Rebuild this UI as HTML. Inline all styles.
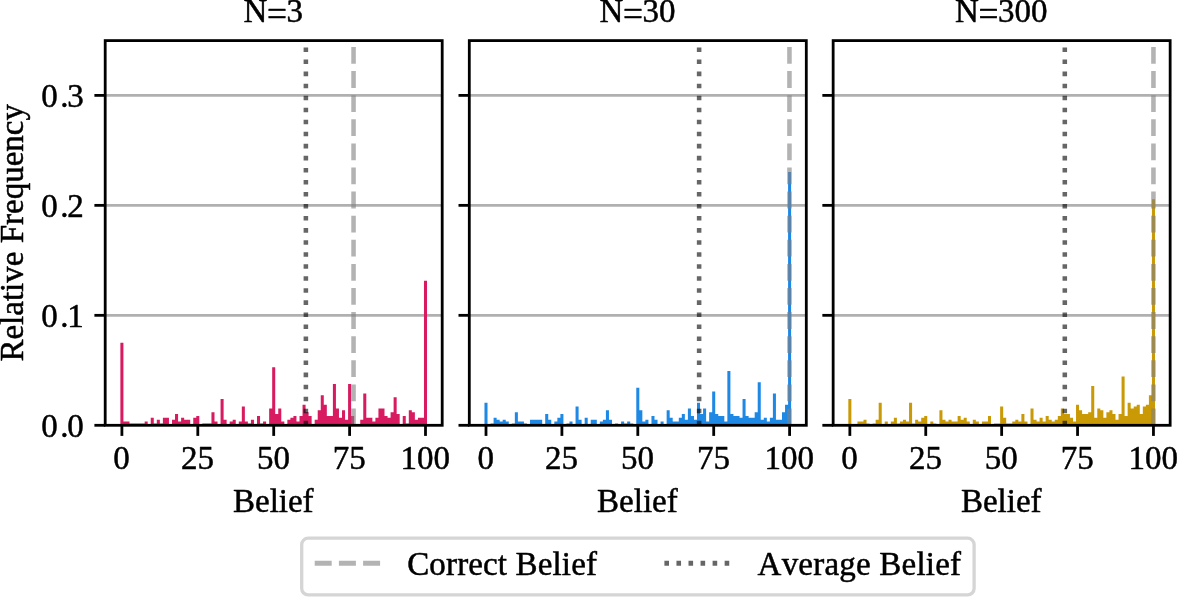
<!DOCTYPE html>
<html lang="en"><head><meta charset="utf-8"><title>Belief histograms</title>
<style>
html,body{margin:0;padding:0;background:#fff;}
body{width:1177px;height:597px;overflow:hidden;}
svg{display:block;}
text{font-family:"Liberation Serif","Times New Roman",Times,serif;font-size:33px;fill:#000;font-kerning:none;stroke:#000;stroke-width:0.5px;stroke-linejoin:round;}
</style></head>
<body>
<svg width="1177" height="597" viewBox="0 0 1177 597">
<rect width="1177" height="597" fill="#fff"/>
<g>
<line x1="105.2" x2="442.2" y1="315.33" y2="315.33" stroke="#b0b0b0" stroke-width="2.8"/>
<line x1="105.2" x2="442.2" y1="205.36" y2="205.36" stroke="#b0b0b0" stroke-width="2.8"/>
<line x1="105.2" x2="442.2" y1="95.39" y2="95.39" stroke="#b0b0b0" stroke-width="2.8"/>
<path d="M120.38 425.3 L120.38 342.76 L123.42 342.76 L123.42 421.55 L126.45 421.55 L126.45 421.55 L129.49 421.55 L129.49 423.42 L132.53 423.42 L132.53 423.42 L135.56 423.42 L135.56 423.42 L138.6 423.42 L138.6 423.42 L141.63 423.42 L141.63 423.42 L144.67 423.42 L144.67 421.55 L147.71 421.55 L147.71 425.3 L150.74 425.3 L150.74 417.8 L153.78 417.8 L153.78 423.42 L156.81 423.42 L156.81 419.67 L159.85 419.67 L159.85 423.42 L162.89 423.42 L162.89 417.8 L165.92 417.8 L165.92 417.8 L168.96 417.8 L168.96 425.3 L171.99 425.3 L171.99 419.67 L175.03 419.67 L175.03 414.04 L178.07 414.04 L178.07 421.55 L181.1 421.55 L181.1 417.8 L184.14 417.8 L184.14 419.67 L187.17 419.67 L187.17 419.67 L190.21 419.67 L190.21 425.3 L193.25 425.3 L193.25 417.8 L196.28 417.8 L196.28 415.92 L199.32 415.92 L199.32 425.3 L202.35 425.3 L202.35 423.42 L205.39 423.42 L205.39 423.42 L208.43 423.42 L208.43 423.42 L211.46 423.42 L211.46 412.17 L214.5 412.17 L214.5 421.55 L217.53 421.55 L217.53 425.3 L220.57 425.3 L220.57 399.04 L223.61 399.04 L223.61 419.67 L226.64 419.67 L226.64 425.3 L229.68 425.3 L229.68 421.55 L232.71 421.55 L232.71 419.67 L235.75 419.67 L235.75 425.3 L238.79 425.3 L238.79 421.55 L241.82 421.55 L241.82 406.54 L244.86 406.54 L244.86 421.55 L247.89 421.55 L247.89 423.42 L250.93 423.42 L250.93 419.67 L253.97 419.67 L253.97 425.3 L257 425.3 L257 415.92 L260.04 415.92 L260.04 423.42 L263.07 423.42 L263.07 421.55 L266.11 421.55 L266.11 425.3 L269.15 425.3 L269.15 408.42 L272.18 408.42 L272.18 367.14 L275.22 367.14 L275.22 414.04 L278.25 414.04 L278.25 408.42 L281.29 408.42 L281.29 421.55 L284.33 421.55 L284.33 425.3 L287.36 425.3 L287.36 419.67 L290.4 419.67 L290.4 417.8 L293.43 417.8 L293.43 415.92 L296.47 415.92 L296.47 421.55 L299.51 421.55 L299.51 415.92 L302.54 415.92 L302.54 404.66 L305.58 404.66 L305.58 412.17 L308.61 412.17 L308.61 415.92 L311.65 415.92 L311.65 425.3 L314.69 425.3 L314.69 419.67 L317.72 419.67 L317.72 410.29 L320.76 410.29 L320.76 395.28 L323.79 395.28 L323.79 404.66 L326.83 404.66 L326.83 415.92 L329.87 415.92 L329.87 415.92 L332.9 415.92 L332.9 384.03 L335.94 384.03 L335.94 408.42 L338.97 408.42 L338.97 417.8 L342.01 417.8 L342.01 410.29 L345.05 410.29 L345.05 419.67 L348.08 419.67 L348.08 384.03 L351.12 384.03 L351.12 415.92 L354.15 415.92 L354.15 425.3 L357.19 425.3 L357.19 425.3 L360.23 425.3 L360.23 419.67 L363.26 419.67 L363.26 393.41 L366.3 393.41 L366.3 417.8 L369.33 417.8 L369.33 417.8 L372.37 417.8 L372.37 421.55 L375.41 421.55 L375.41 417.8 L378.44 417.8 L378.44 408.42 L381.48 408.42 L381.48 408.42 L384.51 408.42 L384.51 415.92 L387.55 415.92 L387.55 417.8 L390.59 417.8 L390.59 412.17 L393.62 412.17 L393.62 397.16 L396.66 397.16 L396.66 414.04 L399.69 414.04 L399.69 425.3 L402.73 425.3 L402.73 415.92 L405.77 415.92 L405.77 423.42 L408.8 423.42 L408.8 410.29 L411.84 410.29 L411.84 412.17 L414.87 412.17 L414.87 419.67 L417.91 419.67 L417.91 417.8 L420.95 417.8 L420.95 417.8 L423.98 417.8 L423.98 280.85 L427.02 280.85 L427.02 425.3 Z" fill="#D81B60"/>
<line x1="353.55" x2="353.55" y1="425.3" y2="40.6" stroke="#808080" stroke-opacity="0.6" stroke-width="4.55" stroke-dasharray="16.8 7.3"/>
<line x1="305.88" x2="305.88" y1="425.3" y2="40.6" stroke="#000" stroke-opacity="0.6" stroke-width="4.55" stroke-dasharray="4.55 7.49"/>
<line x1="121.9" x2="121.9" y1="425.3" y2="435.9" stroke="#000" stroke-width="2.8"/>
<text x="121.6" y="469.2" text-anchor="middle">0</text>
<line x1="197.8" x2="197.8" y1="425.3" y2="435.9" stroke="#000" stroke-width="2.8"/>
<text x="197.5" y="469.2" text-anchor="middle">25</text>
<line x1="273.7" x2="273.7" y1="425.3" y2="435.9" stroke="#000" stroke-width="2.8"/>
<text x="273.4" y="469.2" text-anchor="middle">50</text>
<line x1="349.6" x2="349.6" y1="425.3" y2="435.9" stroke="#000" stroke-width="2.8"/>
<text x="349.3" y="469.2" text-anchor="middle">75</text>
<line x1="425.5" x2="425.5" y1="425.3" y2="435.9" stroke="#000" stroke-width="2.8"/>
<text x="425.2" y="469.2" text-anchor="middle">100</text>
<line x1="94.4" x2="105.2" y1="425.3" y2="425.3" stroke="#000" stroke-width="2.8"/>
<text x="41.25 60.3 67.2" y="436.9">0.0</text>
<line x1="94.4" x2="105.2" y1="315.33" y2="315.33" stroke="#000" stroke-width="2.8"/>
<text x="41.25 60.3 67.2" y="326.93">0.1</text>
<line x1="94.4" x2="105.2" y1="205.36" y2="205.36" stroke="#000" stroke-width="2.8"/>
<text x="41.25 60.3 67.2" y="216.96">0.2</text>
<line x1="94.4" x2="105.2" y1="95.39" y2="95.39" stroke="#000" stroke-width="2.8"/>
<text x="41.25 60.3 67.2" y="106.99">0.3</text>
<rect x="105.2" y="40.6" width="337" height="384.7" fill="none" stroke="#000" stroke-width="2.8"/>
<text y="22.3"><tspan x="243.53">N</tspan><tspan x="267.03" y="26.1" font-size="35.4">=</tspan><tspan x="286.53" y="22.3">3</tspan></text>
<text x="273.3" y="511.6" text-anchor="middle">Belief</text>
</g>
<g>
<line x1="469.3" x2="806.3" y1="315.33" y2="315.33" stroke="#b0b0b0" stroke-width="2.8"/>
<line x1="469.3" x2="806.3" y1="205.36" y2="205.36" stroke="#b0b0b0" stroke-width="2.8"/>
<line x1="469.3" x2="806.3" y1="95.39" y2="95.39" stroke="#b0b0b0" stroke-width="2.8"/>
<path d="M484.48 425.3 L484.48 402.79 L487.52 402.79 L487.52 425.3 L490.55 425.3 L490.55 423.42 L493.59 423.42 L493.59 417.8 L496.63 417.8 L496.63 419.67 L499.66 419.67 L499.66 421.55 L502.7 421.55 L502.7 419.67 L505.73 419.67 L505.73 421.55 L508.77 421.55 L508.77 425.3 L511.81 425.3 L511.81 423.42 L514.84 423.42 L514.84 412.17 L517.88 412.17 L517.88 421.55 L520.91 421.55 L520.91 421.55 L523.95 421.55 L523.95 423.42 L526.99 423.42 L526.99 425.3 L530.02 425.3 L530.02 419.67 L533.06 419.67 L533.06 419.67 L536.09 419.67 L536.09 419.67 L539.13 419.67 L539.13 419.67 L542.17 419.67 L542.17 425.3 L545.2 425.3 L545.2 414.04 L548.24 414.04 L548.24 419.67 L551.27 419.67 L551.27 425.3 L554.31 425.3 L554.31 421.55 L557.35 421.55 L557.35 417.8 L560.38 417.8 L560.38 414.04 L563.42 414.04 L563.42 425.3 L566.45 425.3 L566.45 423.42 L569.49 423.42 L569.49 421.55 L572.53 421.55 L572.53 425.3 L575.56 425.3 L575.56 406.54 L578.6 406.54 L578.6 419.67 L581.63 419.67 L581.63 425.3 L584.67 425.3 L584.67 417.8 L587.71 417.8 L587.71 425.3 L590.74 425.3 L590.74 419.67 L593.78 419.67 L593.78 419.67 L596.81 419.67 L596.81 425.3 L599.85 425.3 L599.85 421.55 L602.89 421.55 L602.89 419.67 L605.92 419.67 L605.92 410.29 L608.96 410.29 L608.96 419.67 L611.99 419.67 L611.99 425.3 L615.03 425.3 L615.03 423.42 L618.07 423.42 L618.07 425.3 L621.1 425.3 L621.1 421.55 L624.14 421.55 L624.14 423.42 L627.17 423.42 L627.17 421.55 L630.21 421.55 L630.21 423.42 L633.25 423.42 L633.25 425.3 L636.28 425.3 L636.28 387.78 L639.32 387.78 L639.32 410.29 L642.35 410.29 L642.35 421.55 L645.39 421.55 L645.39 419.67 L648.43 419.67 L648.43 425.3 L651.46 425.3 L651.46 415.92 L654.5 415.92 L654.5 419.67 L657.53 419.67 L657.53 425.3 L660.57 425.3 L660.57 421.55 L663.61 421.55 L663.61 425.3 L666.64 425.3 L666.64 410.29 L669.68 410.29 L669.68 417.8 L672.71 417.8 L672.71 421.55 L675.75 421.55 L675.75 421.55 L678.79 421.55 L678.79 417.8 L681.82 417.8 L681.82 414.04 L684.86 414.04 L684.86 419.67 L687.89 419.67 L687.89 408.42 L690.93 408.42 L690.93 415.92 L693.97 415.92 L693.97 419.67 L697 419.67 L697 402.79 L700.04 402.79 L700.04 414.04 L703.07 414.04 L703.07 408.42 L706.11 408.42 L706.11 421.55 L709.15 421.55 L709.15 412.17 L712.18 412.17 L712.18 391.53 L715.22 391.53 L715.22 414.04 L718.25 414.04 L718.25 415.92 L721.29 415.92 L721.29 415.92 L724.33 415.92 L724.33 421.55 L727.36 421.55 L727.36 370.9 L730.4 370.9 L730.4 414.04 L733.43 414.04 L733.43 415.92 L736.47 415.92 L736.47 415.92 L739.51 415.92 L739.51 417.8 L742.54 417.8 L742.54 399.04 L745.58 399.04 L745.58 415.92 L748.61 415.92 L748.61 417.8 L751.65 417.8 L751.65 417.8 L754.69 417.8 L754.69 412.17 L757.72 412.17 L757.72 382.15 L760.76 382.15 L760.76 419.67 L763.79 419.67 L763.79 417.8 L766.83 417.8 L766.83 421.55 L769.87 421.55 L769.87 417.8 L772.9 417.8 L772.9 393.41 L775.94 393.41 L775.94 419.67 L778.97 419.67 L778.97 419.67 L782.01 419.67 L782.01 412.17 L785.05 412.17 L785.05 404.66 L788.08 404.66 L788.08 172.04 L791.12 172.04 L791.12 425.3 Z" fill="#1E88E5"/>
<line x1="789.45" x2="789.45" y1="425.3" y2="40.6" stroke="#808080" stroke-opacity="0.6" stroke-width="4.55" stroke-dasharray="16.8 7.3"/>
<line x1="699.13" x2="699.13" y1="425.3" y2="40.6" stroke="#000" stroke-opacity="0.6" stroke-width="4.55" stroke-dasharray="4.55 7.49"/>
<line x1="486" x2="486" y1="425.3" y2="435.9" stroke="#000" stroke-width="2.8"/>
<text x="485.7" y="469.2" text-anchor="middle">0</text>
<line x1="561.9" x2="561.9" y1="425.3" y2="435.9" stroke="#000" stroke-width="2.8"/>
<text x="561.6" y="469.2" text-anchor="middle">25</text>
<line x1="637.8" x2="637.8" y1="425.3" y2="435.9" stroke="#000" stroke-width="2.8"/>
<text x="637.5" y="469.2" text-anchor="middle">50</text>
<line x1="713.7" x2="713.7" y1="425.3" y2="435.9" stroke="#000" stroke-width="2.8"/>
<text x="713.4" y="469.2" text-anchor="middle">75</text>
<line x1="789.6" x2="789.6" y1="425.3" y2="435.9" stroke="#000" stroke-width="2.8"/>
<text x="789.3" y="469.2" text-anchor="middle">100</text>
<line x1="458.5" x2="469.3" y1="425.3" y2="425.3" stroke="#000" stroke-width="2.8"/>
<line x1="458.5" x2="469.3" y1="315.33" y2="315.33" stroke="#000" stroke-width="2.8"/>
<line x1="458.5" x2="469.3" y1="205.36" y2="205.36" stroke="#000" stroke-width="2.8"/>
<line x1="458.5" x2="469.3" y1="95.39" y2="95.39" stroke="#000" stroke-width="2.8"/>
<rect x="469.3" y="40.6" width="337" height="384.7" fill="none" stroke="#000" stroke-width="2.8"/>
<text y="22.3"><tspan x="599.38">N</tspan><tspan x="622.88" y="26.1" font-size="35.4">=</tspan><tspan x="642.38" y="22.3">30</tspan></text>
<text x="637.4" y="511.6" text-anchor="middle">Belief</text>
</g>
<g>
<line x1="833.15" x2="1170.15" y1="315.33" y2="315.33" stroke="#b0b0b0" stroke-width="2.8"/>
<line x1="833.15" x2="1170.15" y1="205.36" y2="205.36" stroke="#b0b0b0" stroke-width="2.8"/>
<line x1="833.15" x2="1170.15" y1="95.39" y2="95.39" stroke="#b0b0b0" stroke-width="2.8"/>
<path d="M848.33 425.3 L848.33 399.04 L851.37 399.04 L851.37 425.3 L854.4 425.3 L854.4 425.3 L857.44 425.3 L857.44 421.55 L860.48 421.55 L860.48 421.55 L863.51 421.55 L863.51 419.67 L866.55 419.67 L866.55 423.42 L869.58 423.42 L869.58 425.3 L872.62 425.3 L872.62 423.42 L875.66 423.42 L875.66 419.67 L878.69 419.67 L878.69 402.79 L881.73 402.79 L881.73 425.3 L884.76 425.3 L884.76 421.55 L887.8 421.55 L887.8 425.3 L890.84 425.3 L890.84 421.55 L893.87 421.55 L893.87 417.8 L896.91 417.8 L896.91 423.42 L899.94 423.42 L899.94 421.55 L902.98 421.55 L902.98 419.67 L906.02 419.67 L906.02 421.55 L909.05 421.55 L909.05 402.79 L912.09 402.79 L912.09 423.42 L915.12 423.42 L915.12 419.67 L918.16 419.67 L918.16 421.55 L921.2 421.55 L921.2 417.8 L924.23 417.8 L924.23 415.92 L927.27 415.92 L927.27 425.3 L930.3 425.3 L930.3 421.55 L933.34 421.55 L933.34 423.42 L936.38 423.42 L936.38 425.3 L939.41 425.3 L939.41 410.29 L942.45 410.29 L942.45 419.67 L945.48 419.67 L945.48 421.55 L948.52 421.55 L948.52 419.67 L951.56 419.67 L951.56 421.55 L954.59 421.55 L954.59 421.55 L957.63 421.55 L957.63 415.92 L960.66 415.92 L960.66 419.67 L963.7 419.67 L963.7 417.8 L966.74 417.8 L966.74 421.55 L969.77 421.55 L969.77 425.3 L972.81 425.3 L972.81 419.67 L975.84 419.67 L975.84 421.55 L978.88 421.55 L978.88 425.3 L981.92 425.3 L981.92 421.55 L984.95 421.55 L984.95 421.55 L987.99 421.55 L987.99 415.92 L991.02 415.92 L991.02 425.3 L994.06 425.3 L994.06 423.42 L997.1 423.42 L997.1 423.42 L1000.13 423.42 L1000.13 406.54 L1003.17 406.54 L1003.17 417.8 L1006.2 417.8 L1006.2 423.42 L1009.24 423.42 L1009.24 423.42 L1012.28 423.42 L1012.28 421.55 L1015.31 421.55 L1015.31 419.67 L1018.35 419.67 L1018.35 421.55 L1021.38 421.55 L1021.38 414.04 L1024.42 414.04 L1024.42 421.55 L1027.46 421.55 L1027.46 425.3 L1030.49 425.3 L1030.49 408.42 L1033.53 408.42 L1033.53 419.67 L1036.56 419.67 L1036.56 421.55 L1039.6 421.55 L1039.6 417.8 L1042.64 417.8 L1042.64 421.55 L1045.67 421.55 L1045.67 415.92 L1048.71 415.92 L1048.71 419.67 L1051.74 419.67 L1051.74 421.55 L1054.78 421.55 L1054.78 419.67 L1057.82 419.67 L1057.82 415.92 L1060.85 415.92 L1060.85 408.42 L1063.89 408.42 L1063.89 414.04 L1066.92 414.04 L1066.92 414.04 L1069.96 414.04 L1069.96 417.8 L1073 417.8 L1073 421.55 L1076.03 421.55 L1076.03 404.66 L1079.07 404.66 L1079.07 410.29 L1082.1 410.29 L1082.1 414.04 L1085.14 414.04 L1085.14 414.04 L1088.18 414.04 L1088.18 412.17 L1091.21 412.17 L1091.21 385.9 L1094.25 385.9 L1094.25 417.8 L1097.28 417.8 L1097.28 408.42 L1100.32 408.42 L1100.32 410.29 L1103.36 410.29 L1103.36 417.8 L1106.39 417.8 L1106.39 412.17 L1109.43 412.17 L1109.43 410.29 L1112.46 410.29 L1112.46 414.04 L1115.5 414.04 L1115.5 419.67 L1118.54 419.67 L1118.54 414.04 L1121.57 414.04 L1121.57 376.52 L1124.61 376.52 L1124.61 415.92 L1127.64 415.92 L1127.64 402.79 L1130.68 402.79 L1130.68 408.42 L1133.72 408.42 L1133.72 406.54 L1136.75 406.54 L1136.75 404.66 L1139.79 404.66 L1139.79 414.04 L1142.82 414.04 L1142.82 406.54 L1145.86 406.54 L1145.86 404.66 L1148.9 404.66 L1148.9 395.28 L1151.93 395.28 L1151.93 199.24 L1154.97 199.24 L1154.97 425.3 Z" fill="#C99A06"/>
<line x1="1153.45" x2="1153.45" y1="425.3" y2="40.6" stroke="#808080" stroke-opacity="0.6" stroke-width="4.55" stroke-dasharray="16.8 7.3"/>
<line x1="1064.8" x2="1064.8" y1="425.3" y2="40.6" stroke="#000" stroke-opacity="0.6" stroke-width="4.55" stroke-dasharray="4.55 7.49"/>
<line x1="849.85" x2="849.85" y1="425.3" y2="435.9" stroke="#000" stroke-width="2.8"/>
<text x="849.55" y="469.2" text-anchor="middle">0</text>
<line x1="925.75" x2="925.75" y1="425.3" y2="435.9" stroke="#000" stroke-width="2.8"/>
<text x="925.45" y="469.2" text-anchor="middle">25</text>
<line x1="1001.65" x2="1001.65" y1="425.3" y2="435.9" stroke="#000" stroke-width="2.8"/>
<text x="1001.35" y="469.2" text-anchor="middle">50</text>
<line x1="1077.55" x2="1077.55" y1="425.3" y2="435.9" stroke="#000" stroke-width="2.8"/>
<text x="1077.25" y="469.2" text-anchor="middle">75</text>
<line x1="1153.45" x2="1153.45" y1="425.3" y2="435.9" stroke="#000" stroke-width="2.8"/>
<text x="1153.15" y="469.2" text-anchor="middle">100</text>
<line x1="822.35" x2="833.15" y1="425.3" y2="425.3" stroke="#000" stroke-width="2.8"/>
<line x1="822.35" x2="833.15" y1="315.33" y2="315.33" stroke="#000" stroke-width="2.8"/>
<line x1="822.35" x2="833.15" y1="205.36" y2="205.36" stroke="#000" stroke-width="2.8"/>
<line x1="822.35" x2="833.15" y1="95.39" y2="95.39" stroke="#000" stroke-width="2.8"/>
<rect x="833.15" y="40.6" width="337" height="384.7" fill="none" stroke="#000" stroke-width="2.8"/>
<text y="22.3"><tspan x="954.98">N</tspan><tspan x="978.48" y="26.1" font-size="35.4">=</tspan><tspan x="997.98" y="22.3">300</tspan></text>
<text x="1001.25" y="511.6" text-anchor="middle">Belief</text>
</g>
<text transform="translate(22.6 232.8) rotate(-90)" text-anchor="middle">Relative Frequency</text>
<rect x="301.7" y="538.2" width="672.4" height="56.7" rx="6.5" ry="6.5" fill="#fff" stroke="#d5d5d5" stroke-width="3.3"/>
<line x1="314.7" x2="380.7" y1="563.3" y2="563.3" stroke="#808080" stroke-opacity="0.6" stroke-width="4.9" stroke-dasharray="17 7.2"/>
<text x="407.2" y="575.3" letter-spacing="0.15">Correct Belief</text>
<line x1="664.4" x2="730.4" y1="563.3" y2="563.3" stroke="#000" stroke-opacity="0.6" stroke-width="4.9" stroke-dasharray="4.6 7.45"/>
<text x="757.6" y="575.3" letter-spacing="0.22">Average Belief</text>
</svg>
</body></html>
